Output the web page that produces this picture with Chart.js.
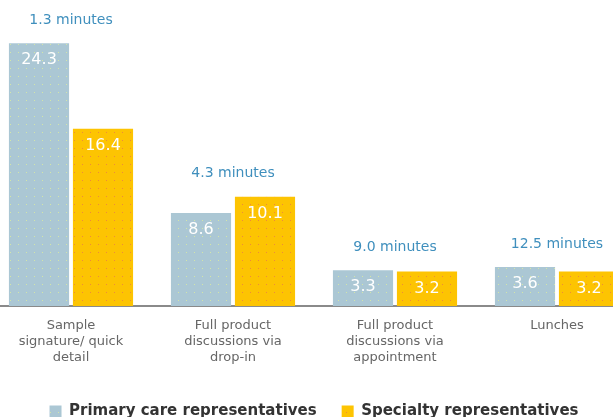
<!DOCTYPE html>
<html>
<head>
<meta charset="utf-8">
<script src="https://cdn.jsdelivr.net/npm/chart.js@4/dist/chart.umd.min.js"></script>
<style>
  html, body { margin: 0; padding: 0; background: #fff; overflow: hidden; width: 613px; height: 417px; }
  #wrap { position: absolute; left: -10px; top: 0; width: 648px; height: 429px; }
</style>
</head>
<body>
<div id="wrap"><canvas id="mycanvas" width="648" height="429"></canvas></div>
<script>
// data
const categories = [
  ['Sample', 'signature/ quick', 'detail'],
  ['Full product', 'discussions via', 'drop-in'],
  ['Full product', 'discussions via', 'appointment'],
  'Lunches'
];
const primaryCare = [24.3, 8.6, 3.3, 3.6];
const specialty = [16.4, 10.1, 3.2, 3.2];
const minutesNotes = ['1.3 minutes', '4.3 minutes', '9.0 minutes', '12.5 minutes'];
const seriesNames = ['Primary care representatives', 'Specialty representatives'];

// small dotted texture like the printed bars
function dotPattern(base, dot) {
  const c = document.createElement('canvas');
  c.width = 8; c.height = 8;
  const g = c.getContext('2d');
  g.fillStyle = base;
  g.fillRect(0, 0, 8, 8);
  g.fillStyle = dot;
  g.fillRect(4, 4, 1, 1);
  return g.createPattern(c, 'repeat');
}
const blueFill = dotPattern('#abc7d4', '#d3e6a8');
const yellowFill = dotPattern('#fdc402', '#ee8a3a');

// value labels in the bars + "x minutes" above each group
const labelPlugin = {
  id: 'labelPlugin',
  afterDatasetsDraw(chart) {
    const ctx = chart.ctx;
    ctx.save();
    ctx.textAlign = 'center';
    ctx.textBaseline = 'middle';
    ctx.font = '16px "DejaVu Sans", sans-serif';
    ctx.fillStyle = '#ffffff';
    chart.data.datasets.forEach(function (ds, di) {
      const meta = chart.getDatasetMeta(di);
      meta.data.forEach(function (bar, i) {
        ctx.fillText(ds.data[i].toFixed(1), bar.x, bar.y + 17);
      });
    });
    const m0 = chart.getDatasetMeta(0).data;
    const m1 = chart.getDatasetMeta(1).data;
    ctx.font = '14px "DejaVu Sans", sans-serif';
    ctx.fillStyle = '#3f8fbd';
    for (let i in minutesNotes) {
      const cx = (m0[i].x + m1[i].x) / 2;
      const top = Math.min(m0[i].y, m1[i].y);
      ctx.fillText(minutesNotes[i], cx, top - 23);
    }
    ctx.restore();
  }
};

const ctx = document.getElementById('mycanvas');
window.myChart = new Chart(ctx, {
  type: 'bar',
  data: {
    labels: categories,
    datasets: [
      { label: seriesNames[0], data: primaryCare, backgroundColor: blueFill,
        categoryPercentage: 0.79, barPercentage: 0.94 },
      { label: seriesNames[1], data: specialty, backgroundColor: yellowFill,
        categoryPercentage: 0.79, barPercentage: 0.94 }
    ]
  },
  options: {
    responsive: false,
    devicePixelRatio: 1,
    animation: false,
    layout: { padding: 0 },
    plugins: {
      tooltip: { enabled: false },
      legend: {
        position: 'bottom',
        labels: {
          boxWidth: 12,
          boxHeight: 12,
          padding: 25,
          color: '#333',
          font: { family: '"DejaVu Sans", sans-serif', size: 15, weight: 'bold' }
        }
      }
    },
    scales: {
      x: {
        grid: { display: false, drawTicks: false },
        border: { display: true, color: '#8a8a8a', width: 2, dash: [2, 1] },
        ticks: {
          color: '#666',
          padding: 11,
          maxRotation: 0,
          font: { family: '"DejaVu Sans", sans-serif', size: 13, lineHeight: 1.25 }
        },
        afterFit: function (scale) { scale.height = 73; }
      },
      y: {
        display: false,
        min: 0,
        max: 28.3
      }
    }
  },
  plugins: [labelPlugin]
});
</script>
</body>
</html>
